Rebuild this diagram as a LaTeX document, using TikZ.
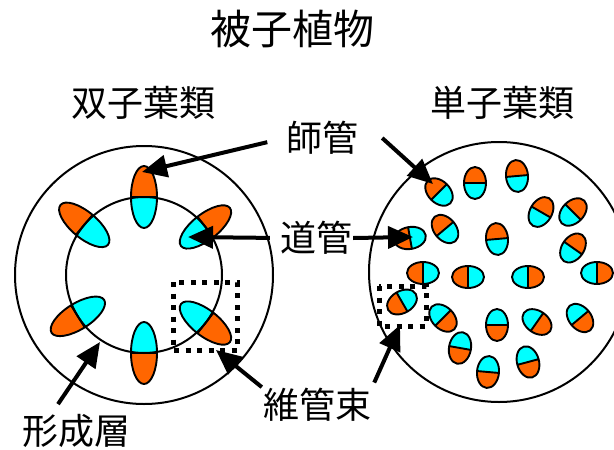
\documentclass[tikz,border=0pt]{standalone}
\usepackage{fontspec}
\setmainfont{Noto Sans CJK JP}
\usetikzlibrary{arrows.meta}

\definecolor{phloem}{HTML}{FF6600}
\definecolor{xylem}{HTML}{00FFFF}

% one vascular bundle: phloem on the +x side, xylem on the -x side
\tikzset{
    pics/vb/.style 2 args={code={
        \fill[phloem] (0,0) ellipse [x radius=#1, y radius=#2];
        \begin{scope}
            \clip (-#1-2,-#2-2) rectangle (0,#2+2);
            \fill[xylem] (0,0) ellipse [x radius=#1, y radius=#2];
        \end{scope}
        \draw[line width=1.9pt] (0,0) ellipse [x radius=#1, y radius=#2] (0,-#2) -- (0,#2);
    }}
}

\begin{document}
\begin{tikzpicture}[x=1pt, y=-1pt,
        arr/.style={line width=4pt, -{Triangle[length=25pt,width=22pt]}},
        lbl/.style={font=\fontsize{36}{40}\selectfont, inner sep=1pt},
        dotbox/.style={line width=5pt, dash pattern=on 5pt off 6.5pt}]
    \clip (0,0) rectangle (614,450);

    % dicot: bundles in a ring on the cambium
    \draw[line width=2pt] (144,275) circle [radius=129];
    \foreach \a in {90,38,140,212,270,322} {
        \pic[rotate=\a] at ({144+78*cos(\a)},{275-78*sin(\a)}) {vb={31}{13}};
    }
    \draw[line width=2pt] (144,275) circle [radius=78];
    \draw[dotbox] (173,282) rectangle (237,350);

    % monocot: scattered bundles
    \draw[line width=2pt] (499,272) circle [radius=130];
    \foreach \x/\y/\a in {439/192/135, 475/183/90, 517/176/95, 541/212/60, 573/212/45,
            445/229/130, 410/238/190, 497/239/95, 573/248/55,
            423/273/180, 468/277/180, 528/277/0, 597/273/0,
            402/302/210, 443/318/315, 497/325/270, 537/322/325, 580/318/310,
            460/348/260, 488/372/265, 528/362/285} {
        \pic[rotate=\a] at (\x,\y) {vb={16}{11}};
    }
    \draw[dotbox] (379,286) rectangle (426,326);

    % labels
    \node[lbl, font=\fontsize{41}{44}\selectfont] (title) at (292,29) {被子植物};
    \node[lbl] (dicot) at (143,103) {双子葉類};
    \node[lbl] (mono) at (502,103) {単子葉類};
    \node[lbl] (phl) at (322,138) {師管};
    \node[lbl] (xyl) at (316,238) {道管};
    \node[lbl] (vbl) at (317,405) {維管束};
    \node[lbl] (cam) at (77,431) {形成層};

    % arrow tips
    \coordinate (phlL) at (142,172);
    \coordinate (phlR) at (433,184);
    \coordinate (xylL) at (188,237);
    \coordinate (xylR) at (413,237);
    \coordinate (vblL) at (216,350);
    \coordinate (vblR) at (400,325);
    \coordinate (camT) at (100,342);

    \draw[arr, shorten <=18pt] (phl.west) -- (phlL);
    \draw[arr] ([xshift=23pt]phl.east) -- (phlR);
    \draw[arr, shorten <=9pt] (xyl.west) -- (xylL);
    \draw[arr] (xyl.east) -- (xylR);
    \draw[arr] (vbl.north west) -- (vblL);
    \draw[arr, shorten <=5pt] (vbl.north east) -- (vblR);
    \draw[arr] ([shift={(-19,-9)}]cam.north) -- (camT);
\end{tikzpicture}
\end{document}
